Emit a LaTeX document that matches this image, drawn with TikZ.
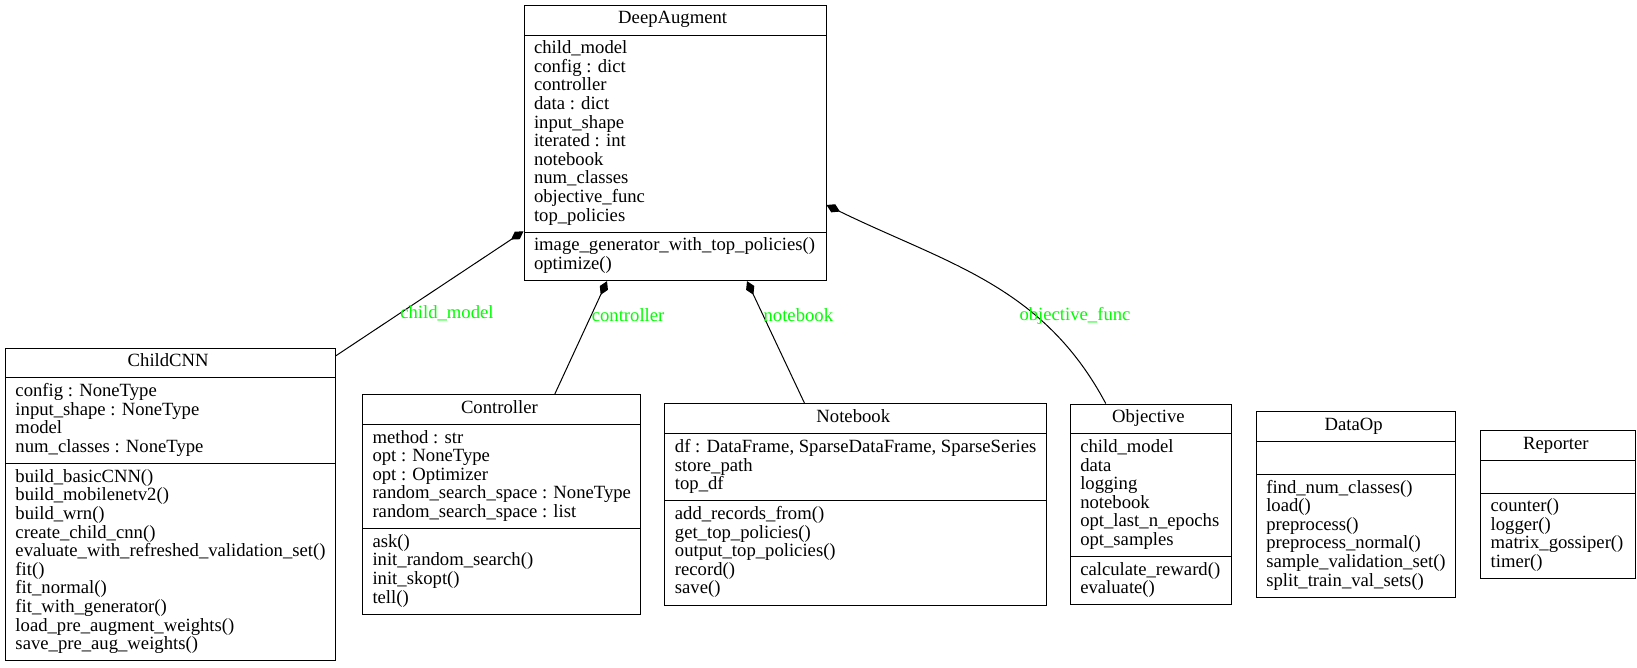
\documentclass[tikz,border=0pt]{standalone}
\usepackage{fontspec}
\setmainfont{Liberation Serif}
\usetikzlibrary{positioning,shapes.multipart,arrows.meta}
\tikzset{
    umlclass/.style={draw, line width=1pt, rectangle split, rectangle split parts=3,
        rectangle split part align={center,left,left}, align=left,
        font=\fontsize{18.67}{18.6}\selectfont, inner xsep=10pt, inner ysep=5.1pt,
        execute at begin node=\strut, execute at end node=\strut},
    comp/.style={{Diamond[length=15pt,width=9pt]}-, line width=1pt},
    lbl/.style={text=green, font=\fontsize{18.67}{18.6}\selectfont, inner sep=0pt}
}
\begin{document}
\begin{tikzpicture}
    \useasboundingbox (0,0) rectangle (1637pt,-667pt);
    \node[umlclass, minimum width=302pt] (DeepAugment) at (675pt,-143pt) {DeepAugment
        \nodepart{two}child\_model\\config : dict\\controller\\data : dict\\input\_shape\\iterated : int\\notebook\\num\_classes\\objective\_func\\top\_policies
        \nodepart{three}image\_generator\_with\_top\_policies()\\optimize()};
    \node[umlclass, minimum width=329pt, anchor=west] (ChildCNN) at (5pt,-504.5pt) {ChildCNN
        \nodepart{two}config : NoneType\\input\_shape : NoneType\\model\\num\_classes : NoneType
        \nodepart{three}build\_basicCNN()\\build\_mobilenetv2()\\build\_wrn()\\create\_child\_cnn()\\evaluate\_with\_refreshed\_validation\_set()\\fit()\\fit\_normal()\\fit\_with\_generator()\\load\_pre\_augment\_weights()\\save\_pre\_aug\_weights()};
    \node[umlclass, minimum width=278pt, right=26pt of ChildCNN] (Controller) {Controller
        \nodepart{two}method : str\\opt : NoneType\\opt : Optimizer\\random\_search\_space : NoneType\\random\_search\_space : list
        \nodepart{three}ask()\\init\_random\_search()\\init\_skopt()\\tell()};
    \node[umlclass, minimum width=380pt, right=23pt of Controller] (Notebook) {Notebook
        \nodepart{two}df : DataFrame, SparseDataFrame, SparseSeries\\store\_path\\top\_df
        \nodepart{three}add\_records\_from()\\get\_top\_policies()\\output\_top\_policies()\\record()\\save()};
    \node[umlclass, minimum width=161pt, right=23pt of Notebook] (Objective) {Objective
        \nodepart{two}child\_model\\data\\logging\\notebook\\opt\_last\_n\_epochs\\opt\_samples
        \nodepart{three}calculate\_reward()\\evaluate()};
    \node[umlclass, minimum width=172pt, right=24pt of Objective] (DataOp) {DataOp
        \nodepart{two}\rule{0pt}{16pt}
        \nodepart{three}find\_num\_classes()\\load()\\preprocess()\\preprocess\_normal()\\sample\_validation\_set()\\split\_train\_val\_sets()};
    \node[umlclass, minimum width=155pt, right=24pt of DataOp] (Reporter) {Reporter
        \nodepart{two}\rule{0pt}{16pt}
        \nodepart{three}counter()\\logger()\\matrix\_gossiper()\\timer()};
    \draw[comp] ([yshift=1pt]DeepAugment.two split west) -- node[lbl, pos=0.66, anchor=west] (lchild) {child\_model} ([yshift=-8pt]ChildCNN.north east);
    \draw[comp] ([xshift=-68pt]DeepAugment.south) -- node[lbl, pos=0.3, anchor=west] (lcontroller) {controller} ([xshift=53pt]Controller.north);
    \draw[comp] ([xshift=72pt]DeepAugment.south) -- node[lbl, pos=0.28, anchor=west] (lnotebook) {notebook} ([xshift=-51pt]Notebook.north);
    \draw[comp] ([yshift=-62pt]DeepAugment.east) to[out=-26, in=118] node[lbl, pos=0.67, anchor=west, xshift=-14pt, yshift=-3pt] (lobjective) {objective\_func} ([xshift=-45pt]Objective.north);
\end{tikzpicture}
\end{document}
